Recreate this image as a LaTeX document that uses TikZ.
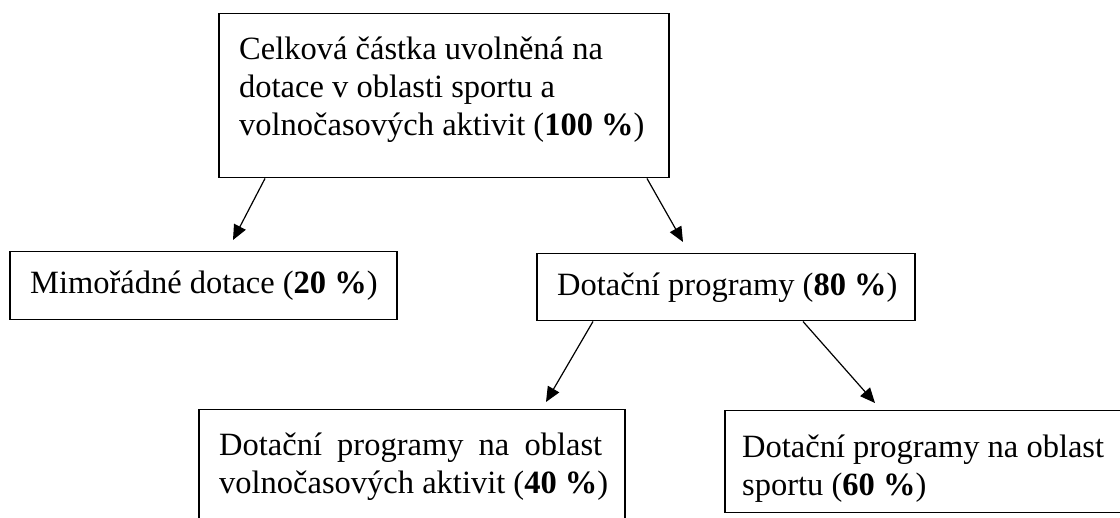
\documentclass[tikz,border=0pt]{standalone}
\usepackage{fontspec}
\setmainfont{Liberation Serif}
\usetikzlibrary{arrows.meta}
\begin{document}
\begin{tikzpicture}[x=1pt,y=-1pt,
  boxnode/.style={draw=black, line width=1.5pt, inner sep=0pt, anchor=north west},
  txt/.style={inner sep=0pt, anchor=base west, align=left, text=black,
              font=\fontsize{32.5}{38}\selectfont},
  arr/.style={draw=black, line width=1.2pt, -{Triangle[length=15pt,width=13pt]}}]
\useasboundingbox (0,0) rectangle (1120,518);
\fill[white] (0,0) rectangle (1120,518);
\clip (0,0) rectangle (1120,518);
% boxes
\node[boxnode, minimum width=450pt, minimum height=164pt] (top) at (218,13) {};
\node[boxnode, minimum width=387pt, minimum height=68pt] (mim) at (9,251) {};
\node[boxnode, minimum width=378pt, minimum height=67pt] (dot) at (536,253) {};
\node[boxnode, minimum width=426pt, minimum height=140pt] (bl) at (198,409) {};
\node[boxnode, minimum width=420pt, minimum height=102pt] (br) at (724,410) {};
% texts (anchor base = baseline of the last line)
\node[txt] (topT) at ([shift={(21,123)}]top.north west)
  {Celková částka uvolněná na\\dotace v oblasti sportu a\\volnočasových aktivit (\textbf{100 \%})};
\node[txt] (mimT) at ([shift={(21,43)}]mim.north west) {Mimořádné dotace (\textbf{20 \%})};
\node[txt] (dotT) at ([shift={(21,43)}]dot.north west) {Dotační programy (\textbf{80 \%})};
\node[txt] (blT) at ([shift={(21,85)}]bl.north west)
  {\makebox[383pt][s]{Dotační programy na oblast}\\volnočasových aktivit (\textbf{40 \%})};
\node[txt] (brT) at ([shift={(18,86)}]br.north west)
  {Dotační programy na oblast\\sportu (\textbf{60 \%})};
% connectors
\coordinate (t1) at ([shift={(224,-11)}]mim.north west);
\coordinate (t2) at ([shift={(147,-11)}]dot.north west);
\coordinate (t3) at ([shift={(348,-7)}]bl.north west);
\coordinate (t4) at ([shift={(151,-7)}]br.north west);
\draw[arr] ([xshift=47pt]top.south west) -- (t1);
\draw[arr] ([xshift=429pt]top.south west) -- (t2);
\draw[arr] ([xshift=57pt]dot.south west) -- (t3);
\draw[arr] ([xshift=267pt]dot.south west) -- (t4);
\end{tikzpicture}
\end{document}
